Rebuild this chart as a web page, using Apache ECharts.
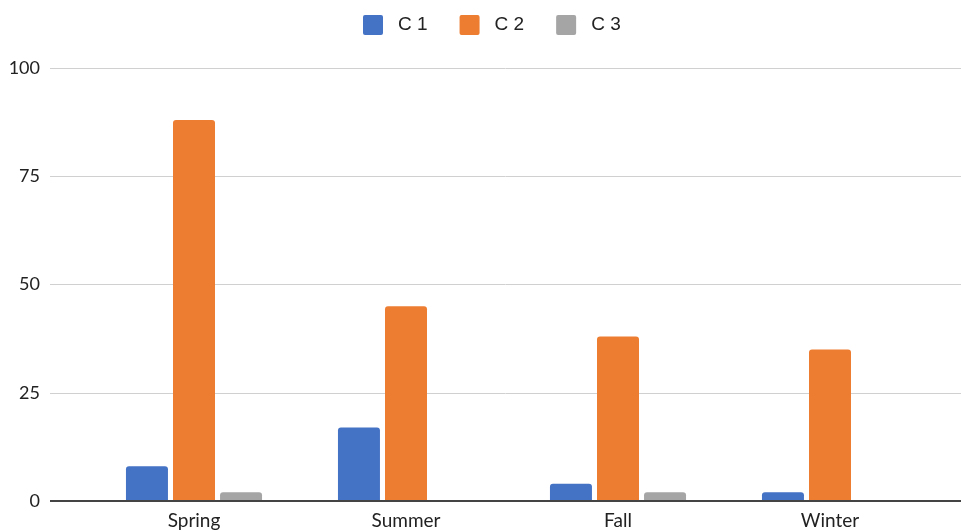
<!DOCTYPE html>
<html>
<head>
<meta charset="utf-8">
<script src="https://cdn.jsdelivr.net/npm/echarts@6/dist/echarts.min.js"></script>
<style>
  html, body { margin: 0; padding: 0; background: #fff; }
  #chart { width: 961px; height: 531px; }
</style>
</head>
<body>
<div id="chart"></div>
<script>
// Seasonal values for three series
const categories = ['Spring', 'Summer', 'Fall', 'Winter'];
const seriesNames = ['C 1', 'C 2', 'C 3'];
const c1Values = [8, 17, 4, 2];
const c2Values = [88, 45, 38, 35];
const c3Values = [2, 0, 2, 0];
const yTicks = [0, 25, 50, 75, 100];

const colors = ['#4472C4', '#ED7D31', '#A5A5A5'];
const values = [c1Values, c2Values, c3Values];

const chart = echarts.init(document.getElementById('chart'));

const yMin = yTicks[0];
const yMax = yTicks[yTicks.length - 1];
const yStep = yTicks[1] - yTicks[0];

chart.setOption({
  animation: false,
  color: colors,
  legend: {
    top: 10,
    left: 358,
    itemWidth: 20,
    itemHeight: 20,
    itemGap: 32,
    icon: 'path://M2,0 L18,0 Q20,0 20,2 L20,18 Q20,20 18,20 L2,20 Q0,20 0,18 L0,2 Q0,0 2,0 Z',
    textStyle: {
      fontFamily: 'Liberation Sans',
      fontSize: 19,
      color: '#222',
      padding: [0, 0, 0, 10]
    },
    data: seriesNames
  },
  grid: [
    // bars
    { left: 88, right: 25, top: 68, bottom: 30 },
    // full-width grid lines and y labels
    { left: 50, right: 0, top: 68, bottom: 30 }
  ],
  xAxis: [
    {
      type: 'category',
      gridIndex: 0,
      data: categories,
      axisLine: { show: false },
      axisTick: { show: false },
      axisLabel: {
        fontFamily: 'Lato',
        fontSize: 19,
        color: '#222',
        margin: 10
      }
    },
    {
      type: 'value',
      gridIndex: 1,
      show: false
    }
  ],
  yAxis: [
    {
      type: 'value',
      gridIndex: 0,
      min: yMin, max: yMax, interval: yStep,
      axisLabel: { show: false },
      axisLine: { show: false },
      axisTick: { show: false },
      splitLine: { show: false }
    },
    {
      type: 'value',
      gridIndex: 1,
      min: yMin, max: yMax, interval: yStep,
      axisLabel: {
        fontFamily: 'Lato',
        fontSize: 18,
        color: '#222',
        margin: 10
      },
      axisLine: { show: false },
      axisTick: { show: false },
      splitLine: { lineStyle: { color: '#d0d0d0', width: 1 } }
    }
  ],
  series: seriesNames.map((name, i) => ({
    name: name,
    type: 'bar',
    xAxisIndex: 0,
    yAxisIndex: 0,
    data: values[i],
    barWidth: 42,
    barGap: '12%',
    itemStyle: { color: colors[i], borderRadius: [3, 3, 0, 0] }
  })).concat([{
    // baseline at zero
    type: 'line',
    xAxisIndex: 1,
    yAxisIndex: 1,
    data: [],
    silent: true,
    markLine: {
      symbol: 'none',
      silent: true,
      label: { show: false },
      lineStyle: { color: '#444', width: 2, type: 'solid' },
      data: [{ yAxis: 0 }]
    }
  }])
});
</script>
</body>
</html>
